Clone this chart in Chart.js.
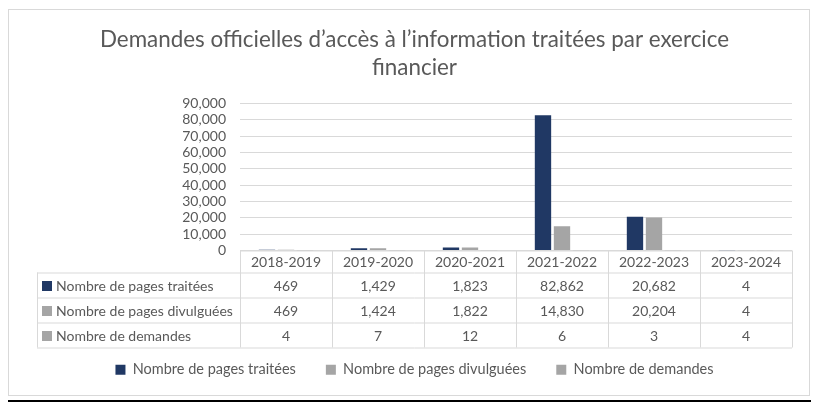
<!DOCTYPE html>
<html>
<head>
<meta charset="utf-8">
<script src="https://cdn.jsdelivr.net/npm/chart.js@4.4.1/dist/chart.umd.min.js"></script>
<style>
  body { margin: 0; background: #fff; }
  #box { position: absolute; left: 8px; top: 9px; width: 802px; height: 387px; border: 1px solid #d9d9d9; box-sizing: border-box; }
  #rule { position: absolute; left: 8px; top: 400px; width: 803px; height: 2px; background: #000; }
</style>
</head>
<body>
<div id="box"><canvas id="chart" width="800" height="385"></canvas></div>
<div id="rule"></div>
<script>
const years = ["2018-2019", "2019-2020", "2020-2021", "2021-2022", "2022-2023", "2023-2024"];
const pagesTraitees = [469, 1429, 1823, 82862, 20682, 4];
const pagesDivulguees = [469, 1424, 1822, 14830, 20204, 4];
const demandes = [4, 7, 12, 6, 3, 4];
const seriesNames = ["Nombre de pages traitées", "Nombre de pages divulguées", "Nombre de demandes"];
const seriesColors = ["#203864", "#a5a5a5", "#a5a5a5"];

const font = "Lato, 'Open Sans', sans-serif";
const textColor = "#595959";
const lineColor = "#d9d9d9";

// data table drawn under the x axis, lined up with the categories
const dataTable = {
    id: "dataTable",
    afterDraw(chart) {
        const c = chart.ctx;
        const x = chart.scales.x;
        const n = years.length;
        const colW = (x.right - x.left) / n;
        const top = chart.chartArea.bottom;
        const left = 28;
        const rows = [top, top + 22, top + 47, top + 72, top + 97];
        const series = [pagesTraitees, pagesDivulguees, demandes];

        c.save();
        c.strokeStyle = lineColor;
        c.lineWidth = 1;
        c.beginPath();
        c.moveTo(x.left, rows[0] + 0.5);
        c.lineTo(x.right, rows[0] + 0.5);
        for (let r = 1; r < rows.length; r++) {
            c.moveTo(left, rows[r] + 0.5);
            c.lineTo(x.right, rows[r] + 0.5);
        }
        for (let i = 0; i <= n; i++) {
            const px = Math.round(x.left + i * colW) + 0.5;
            c.moveTo(px, rows[0]);
            c.lineTo(px, rows[4]);
        }
        c.moveTo(left + 0.5, rows[1]);
        c.lineTo(left + 0.5, rows[4]);
        c.stroke();

        c.font = "14px " + font;
        c.fillStyle = textColor;
        c.textBaseline = "middle";
        c.textAlign = "center";
        years.forEach((y, i) => {
            c.fillText(y, x.getPixelForValue(i), (rows[0] + rows[1]) / 2 + 1);
        });
        series.forEach((vals, r) => {
            const cy = (rows[r + 1] + rows[r + 2]) / 2 + 1;
            c.fillStyle = seriesColors[r];
            c.fillRect(left + 5, cy - 5, 10, 10);
            c.fillStyle = textColor;
            c.textAlign = "left";
            c.fillText(seriesNames[r], left + 19, cy);
            c.textAlign = "center";
            vals.forEach((v, i) => {
                c.fillText(v.toLocaleString("en-US"), x.getPixelForValue(i), cy);
            });
        });
        c.restore();
    }
};

new Chart(document.getElementById("chart"), {
    type: "bar",
    data: {
        labels: years,
        datasets: [
            { label: seriesNames[0], data: pagesTraitees, backgroundColor: seriesColors[0] },
            { label: seriesNames[1], data: pagesDivulguees, backgroundColor: seriesColors[1] },
            { label: seriesNames[2], data: demandes, backgroundColor: seriesColors[2] }
        ]
    },
    options: {
        responsive: false,
        animation: false,
        layout: { padding: { left: 28, right: 17, top: 0, bottom: 8 } },
        datasets: { bar: { categoryPercentage: 0.62, barPercentage: 0.86 } },
        plugins: {
            title: {
                display: true,
                text: ["Demandes officielles d\u2019accès à l\u2019information traitées par exercice", "financier"],
                color: textColor,
                font: { family: font, size: 22.4, weight: "normal", lineHeight: 1.24 },
                padding: { top: 16, bottom: 22 }
            },
            legend: {
                position: "bottom",
                labels: {
                    color: textColor,
                    font: { family: font, size: 14.5 },
                    boxWidth: 10,
                    boxHeight: 10,
                    padding: 30
                }
            },
            tooltip: { enabled: false }
        },
        scales: {
            x: {
                grid: { display: false },
                border: { display: false },
                ticks: { display: false },
                // the table is drawn in this space and runs into the legend's top padding
                afterFit(axis) { axis.height = 82; }
            },
            y: {
                min: 0,
                max: 90000,
                ticks: {
                    stepSize: 10000,
                    autoSkip: false,
                    padding: 14,
                    color: textColor,
                    font: { family: font, size: 14 },
                    callback: v => v.toLocaleString("en-US")
                },
                grid: { color: lineColor, drawTicks: false },
                border: { display: false },
                afterFit(axis) { axis.width = 203; }
            }
        }
    },
    plugins: [dataTable]
});
</script>
</body>
</html>
